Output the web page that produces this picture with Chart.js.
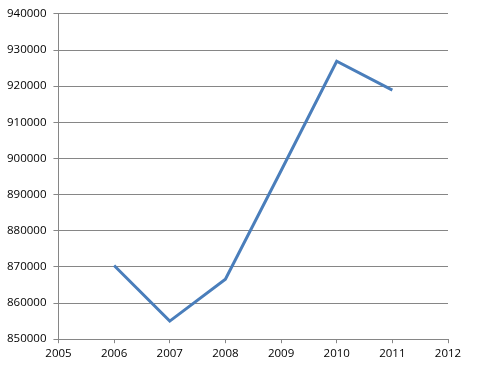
<!DOCTYPE html>
<html>
<head>
<meta charset="utf-8">
<script src="https://cdn.jsdelivr.net/npm/chart.js@4"></script>
<style>
  body { margin: 0; background: #fff; }
</style>
</head>
<body>
<canvas id="myChart" width="480" height="377"></canvas>
<script>
const years = [2006, 2007, 2008, 2009, 2010, 2011];
const values = [870400, 855000, 866600, 896600, 926900, 918900];
const xTicks = [2005, 2006, 2007, 2008, 2009, 2010, 2011, 2012];
const yTicks = [850000, 860000, 870000, 880000, 890000, 900000, 910000, 920000, 930000, 940000];

const points = years.map((yr, i) => ({ x: yr, y: values[i] }));

var ctx = document.getElementById('myChart').getContext('2d');
var myChart = new Chart(ctx, {
	type : 'line',
	data : {
		datasets : [ {
			data : points,
			borderColor : '#4a7ebb',
			borderWidth : 3,
			pointRadius : 0,
			tension : 0,
			fill : false
		} ]
	},
	options : {
		responsive : false,
		animation : false,
		layout : {
			padding : { left : 0, right : 32, top : 13, bottom : 12 }
		},
		plugins : {
			legend : { display : false },
			tooltip : { enabled : false }
		},
		scales : {
			x : {
				type : 'linear',
				min : xTicks[0],
				max : xTicks[xTicks.length - 1],
				afterBuildTicks : axis => { axis.ticks = xTicks.map(v => ({ value : v })); },
				grid : {
					drawOnChartArea : false,
					color : '#868686',
					tickLength : 4
				},
				border : { color : '#868686' },
				ticks : {
					color : '#000',
					padding : 4,
					maxRotation : 0,
					font : { family : 'Open Sans', size : 11.5 },
					callback : v => String(v)
				}
			},
			y : {
				min : yTicks[0],
				max : yTicks[yTicks.length - 1],
				afterBuildTicks : axis => { axis.ticks = yTicks.map(v => ({ value : v })); },
				grid : {
					color : '#868686',
					tickLength : 5
				},
				border : { color : '#868686' },
				ticks : {
					color : '#000',
					padding : 7,
					font : { family : 'Open Sans', size : 11.5 },
					callback : v => String(v)
				}
			}
		}
	}
});
</script>
</body>
</html>
